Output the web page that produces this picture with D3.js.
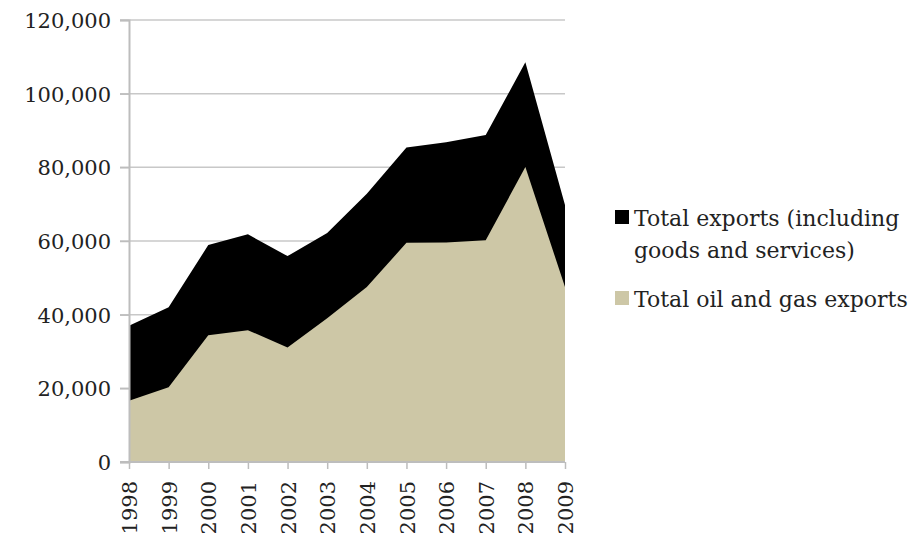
<!DOCTYPE html>
<html>
<head>
<meta charset="utf-8">
<script src="https://cdn.jsdelivr.net/npm/d3@7"></script>
<style>
  html, body { margin: 0; padding: 0; background: #fff; }
  svg { display: block; }
</style>
</head>
<body>
<svg id="chart" width="911" height="540"></svg>
<script>
const years = ["1998","1999","2000","2001","2002","2003","2004","2005","2006","2007","2008","2009"];
const totalExports = [37000, 42000, 58900, 61800, 55900, 62200, 72800, 85400, 86800, 88800, 108500, 69800];
const oilGasExports = [16600, 20300, 34400, 35800, 31100, 39000, 47500, 59500, 59600, 60200, 80100, 47500];
const yTicks = [0, 20000, 40000, 60000, 80000, 100000, 120000];
const seriesNames = ["Total exports (including goods and services)", "Total oil and gas exports"];
const legendLines = [["Total exports (including", "goods and services)"], ["Total oil and gas exports"]];
const colors = ["#000000", "#cdc7a6"];

const svg = d3.select("#chart");
const fontFamily = "'DejaVu Serif', serif";
const textColor = "#222222";

const x = d3.scalePoint().domain(years).range([129, 565]);
const y = d3.scaleLinear().domain([0, 120000]).range([462, 20]);

// gridlines
svg.append("g").selectAll("line")
  .data(yTicks.filter(d => d > 0))
  .join("line")
  .attr("x1", 120).attr("x2", 565)
  .attr("y1", d => y(d)).attr("y2", d => y(d))
  .attr("stroke", "#c8c8c8").attr("stroke-width", 1.5);

// areas
const area = d3.area()
  .x((d, i) => x(years[i]))
  .y0(y(0))
  .y1(d => y(d));

svg.append("path").datum(totalExports).attr("d", area).attr("fill", colors[0]);
svg.append("path").datum(oilGasExports).attr("d", area).attr("fill", colors[1]);

// y axis
const yAxis = d3.axisLeft(y).tickValues(yTicks).tickSize(9).tickPadding(9)
  .tickFormat(d3.format(","));
const gy = svg.append("g").attr("transform", "translate(129,0)").call(yAxis);
gy.select(".domain").attr("stroke", "#bdbdbd").attr("stroke-width", 2);
gy.selectAll(".tick line").attr("stroke", "#bdbdbd").attr("stroke-width", 1.5);
gy.selectAll(".tick text").attr("font-family", fontFamily).attr("font-size", 21)
  .attr("fill", textColor).attr("dy", "0.36em");

// x axis
const xAxis = d3.axisBottom(x).tickSize(7).tickPadding(8);
const gx = svg.append("g").attr("transform", "translate(0,462)").call(xAxis);
gx.select(".domain").attr("stroke", "#bdbdbd").attr("stroke-width", 2)
  .attr("d", "M120,0H565");
gx.selectAll(".tick line").attr("stroke", "#bdbdbd").attr("stroke-width", 1.5);
gx.selectAll(".tick text")
  .attr("font-family", fontFamily).attr("font-size", 21).attr("fill", textColor)
  .attr("text-anchor", "end")
  .attr("transform", "rotate(-90)")
  .attr("x", -19).attr("y", 0).attr("dy", "0.36em");

// legend
const legend = svg.append("g");
const legendRows = [{y: 218, lines: legendLines[0]}, {y: 299, lines: legendLines[1]}];
legendRows.forEach((row, i) => {
  legend.append("rect").attr("x", 615).attr("y", row.y - 8).attr("width", 14).attr("height", 14)
    .attr("fill", colors[i]);
  const t = legend.append("text").attr("font-family", fontFamily).attr("font-size", 22)
    .attr("fill", textColor);
  row.lines.forEach((ln, j) => {
    t.append("tspan").attr("x", 634).attr("y", row.y + j * 32).attr("dy", "0.35em").text(ln);
  });
});
</script>
</body>
</html>
